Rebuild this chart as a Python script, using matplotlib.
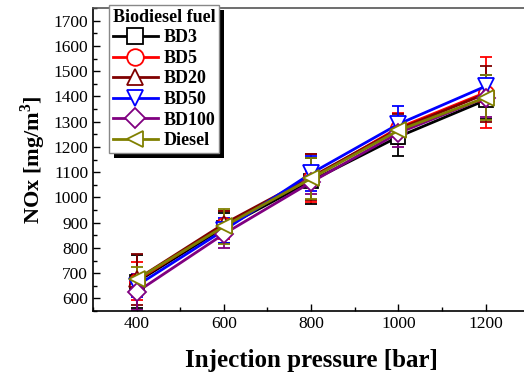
import matplotlib
matplotlib.use('Agg')
import matplotlib.pyplot as plt
from matplotlib.lines import Line2D
from matplotlib.patches import Rectangle
from matplotlib.ticker import MultipleLocator

plt.rcParams['font.family'] = ['Liberation Serif', 'DejaVu Serif']
plt.rcParams['mathtext.fontset'] = 'custom'
plt.rcParams['mathtext.rm'] = 'Liberation Serif'
plt.rcParams['mathtext.bf'] = 'Liberation Serif:bold'

# data
pressure = [400, 600, 800, 1000, 1200]
fuels = ['BD3', 'BD5', 'BD20', 'BD50', 'BD100', 'Diesel']
bd3 = [665, 880, 1065, 1240, 1385]
bd5 = [670, 890, 1075, 1275, 1415]
bd20 = [675, 895, 1080, 1270, 1410]
bd50 = [650, 870, 1095, 1290, 1440]
bd100 = [625, 855, 1060, 1255, 1395]
diesel = [675, 885, 1075, 1265, 1395]
err_bd3 = [105, 60, 90, 75, 75]
err_bd5 = [75, 55, 95, 60, 140]
err_bd20 = [100, 50, 90, 60, 110]
err_bd50 = [45, 50, 70, 70, 45]
err_bd100 = [70, 55, 45, 55, 75]
err_diesel = [50, 70, 80, 45, 90]

values = [bd3, bd5, bd20, bd50, bd100, diesel]
errors = [err_bd3, err_bd5, err_bd20, err_bd50, err_bd100, err_diesel]
colors = ['black', '#ff0000', '#800000', '#0000ff', '#800080', '#808000']
markers = ['s', 'o', '^', 'v', 'D', '<']
msizes = [10, 11, 11, 11, 9, 11]

fig = plt.figure(figsize=(5.24, 3.75), dpi=100)
ax = fig.add_axes([93/524, 1 - 311/375, 1 - 93/524 + 0.01, (311 - 8)/375])

handles = []
for v, e, c, m, ms, name in zip(values, errors, colors, markers, msizes, fuels):
    ax.errorbar(pressure, v, yerr=e, color=c, marker=m, markersize=ms,
                markerfacecolor='white', markeredgecolor=c, markeredgewidth=1.3,
                linewidth=2, elinewidth=1.3, capsize=4, capthick=1.8)
    handles.append(Line2D([], [], color=c, marker=m, markersize=ms + 1,
                          markerfacecolor='white', markeredgecolor=c,
                          markeredgewidth=1.3, linewidth=2, label=name))

ax.set_xlim(300, 1300)
ax.set_ylim(550, 1750)
ax.set_xticks(pressure)
ax.set_yticks(range(600, 1701, 100))
ax.xaxis.set_minor_locator(MultipleLocator(100))
ax.yaxis.set_minor_locator(MultipleLocator(50))
ax.tick_params(which='both', direction='in', labelsize=12.5, width=1, top=False, right=False)
ax.tick_params(which='major', length=5)
ax.tick_params(which='minor', length=3)
for s in ['left', 'bottom', 'top']:
    ax.spines[s].set_linewidth(1.2)
ax.spines['top'].set_color('#555555')
ax.spines['right'].set_visible(False)

ax.set_xlabel('Injection pressure [bar]', fontsize=18, fontweight='bold', labelpad=12)
ax.set_ylabel(r'NOx [mg/m$^\mathbf{3}$]', fontsize=16, fontweight='bold', labelpad=4)

leg = ax.legend(handles=handles, loc='upper left', bbox_to_anchor=(109/524, 1 - 5/375),
                bbox_transform=fig.transFigure, title='Biodiesel fuel',
                title_fontproperties={'weight': 'bold', 'size': 13},
                prop={'weight': 'bold', 'size': 13}, alignment='left',
                fancybox=False, edgecolor='#888888', framealpha=1,
                handlelength=2.5, handletextpad=0.3, labelspacing=0.2,
                borderpad=0.2, borderaxespad=0)
leg.get_frame().set_linewidth(1)
leg.set_zorder(10)

# shadow behind the legend
fig.canvas.draw()
bb = leg.get_window_extent().transformed(fig.transFigure.inverted())
shadow = Rectangle((bb.x0 + 5/524, bb.y0 - 5/375), bb.width, bb.height,
                   transform=fig.transFigure, facecolor='black', zorder=9)
ax.add_artist(shadow)
shadow.set_clip_on(False)

fig.savefig('out.png', dpi=100)
